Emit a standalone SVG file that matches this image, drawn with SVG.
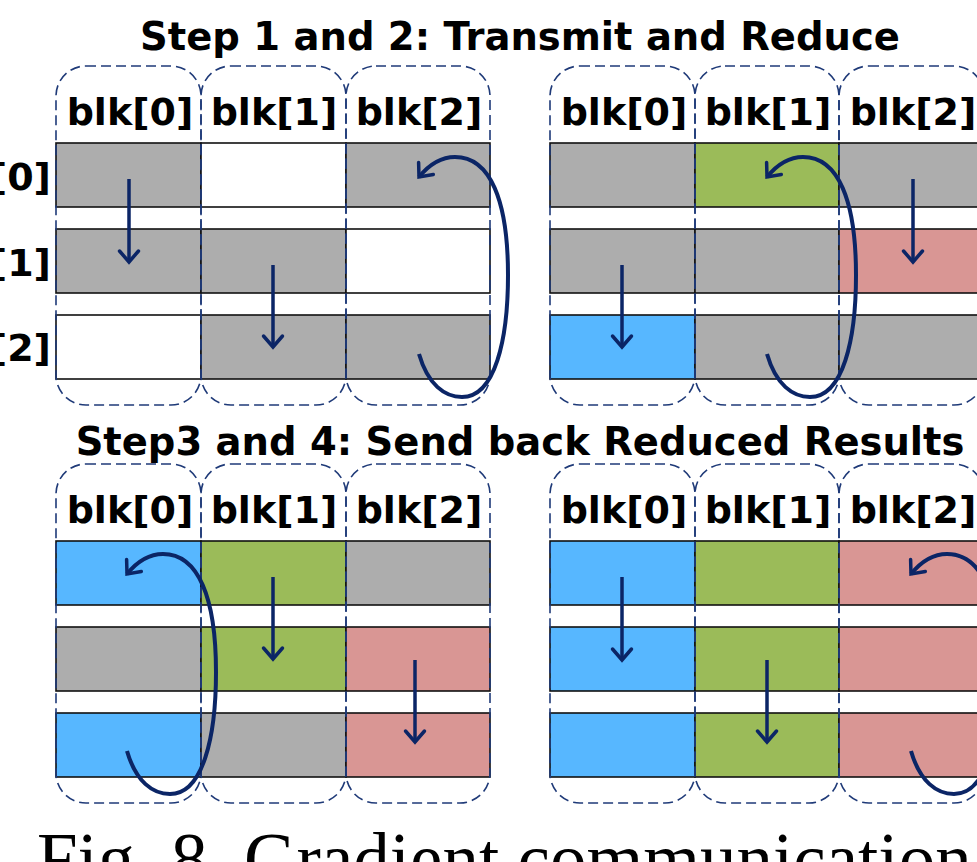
<svg xmlns="http://www.w3.org/2000/svg" width="977" height="862" viewBox="0 0 977 862">
  <style>
    .title { font-family: "DejaVu Sans", Verdana, sans-serif; font-weight: bold; font-size: 38.5px; fill: #000; text-anchor: middle; }
    .blk { font-family: "DejaVu Sans", Verdana, sans-serif; font-weight: bold; font-size: 38px; fill: #000; text-anchor: middle; }
    .row { font-family: "DejaVu Sans", Verdana, sans-serif; font-weight: bold; font-size: 38px; fill: #000; text-anchor: end; }
    .cap { font-family: "Liberation Serif", "Times New Roman", serif; font-size: 73px; fill: #000; }
    .cell { stroke: #111; stroke-width: 1.6; }
    .g { fill: #adadad; }
    .w { fill: #ffffff; }
    .gr { fill: #9bbb59; }
    .rd { fill: #d99694; }
    .bl { fill: #57b7ff; }
    .col { fill: none; stroke: #1f3a78; stroke-width: 1.6; stroke-dasharray: 10 5; }
    .arr { fill: none; stroke: #0b2566; stroke-width: 3.5; stroke-linecap: butt; marker-end: url(#ah); }
    .loop { fill: none; stroke: #0b2566; stroke-width: 4; stroke-linecap: butt; marker-end: url(#ah); }
  </style>
  <defs>
    <marker id="ah" viewBox="-15 -13 18 26" markerWidth="18" markerHeight="26" refX="0" refY="0" orient="auto" markerUnits="userSpaceOnUse">
      <path d="M-11,-9.5 L0,0 L-11,9.5" fill="none" stroke="#0b2566" stroke-width="3.5" stroke-linecap="round" stroke-linejoin="miter"/>
    </marker>
    <!-- one block column: three cells plus dashed outline; fills set per use -->
  </defs>

  <rect width="977" height="862" fill="#ffffff"/>

  <!-- headings -->
  <text class="title" x="520" y="50">Step 1 and 2: Transmit and Reduce</text>
  <text class="title" x="520" y="455">Step3 and 4: Send back Reduced Results</text>

  <!-- row labels (left edge) -->
  <g id="row-labels">
    <text class="row" x="51" y="190">[0]</text>
    <text class="row" x="51" y="276">[1]</text>
    <text class="row" x="51" y="361">[2]</text>
  </g>

  <!-- Panel A: steps 1-2, left -->
  <g id="pA">
    <g id="pA-blk0">
      <rect class="cell g" x="56" y="143" width="145" height="64"/>
      <rect class="cell g" x="56" y="229" width="145" height="64"/>
      <rect class="cell w" x="56" y="315" width="145" height="64"/>
      <text class="blk" x="130" y="125">blk[0]</text>
    </g>
    <g id="pA-blk1">
      <rect class="cell w" x="201" y="143" width="145" height="64"/>
      <rect class="cell g" x="201" y="229" width="145" height="64"/>
      <rect class="cell g" x="201" y="315" width="145" height="64"/>
      <text class="blk" x="274" y="125">blk[1]</text>
    </g>
    <g id="pA-blk2">
      <rect class="cell g" x="346" y="143" width="144" height="64"/>
      <rect class="cell w" x="346" y="229" width="144" height="64"/>
      <rect class="cell g" x="346" y="315" width="144" height="64"/>
      <text class="blk" x="419" y="125">blk[2]</text>
    </g>
    <rect class="col" x="56" y="66" width="145" height="339" rx="30"/>
    <rect class="col" x="201" y="66" width="145" height="339" rx="30"/>
    <rect class="col" x="346" y="66" width="144" height="339" rx="30"/>
  </g>

  <!-- Panel B: steps 1-2, right -->
  <g id="pB">
    <g id="pB-blk0">
      <rect class="cell g" x="550" y="143" width="145" height="64"/>
      <rect class="cell g" x="550" y="229" width="145" height="64"/>
      <rect class="cell bl" x="550" y="315" width="145" height="64"/>
      <text class="blk" x="624" y="125">blk[0]</text>
    </g>
    <g id="pB-blk1">
      <rect class="cell gr" x="695" y="143" width="144" height="64"/>
      <rect class="cell g" x="695" y="229" width="144" height="64"/>
      <rect class="cell g" x="695" y="315" width="144" height="64"/>
      <text class="blk" x="768" y="125">blk[1]</text>
    </g>
    <g id="pB-blk2">
      <rect class="cell g" x="839" y="143" width="145" height="64"/>
      <rect class="cell rd" x="839" y="229" width="145" height="64"/>
      <rect class="cell g" x="839" y="315" width="145" height="64"/>
      <text class="blk" x="913" y="125">blk[2]</text>
    </g>
    <rect class="col" x="550" y="66" width="145" height="339" rx="30"/>
    <rect class="col" x="695" y="66" width="144" height="339" rx="30"/>
    <rect class="col" x="839" y="66" width="145" height="339" rx="30"/>
  </g>

  <!-- Panel C: steps 3-4, left -->
  <g id="pC">
    <g id="pC-blk0">
      <rect class="cell bl" x="56" y="541" width="145" height="64"/>
      <rect class="cell g" x="56" y="627" width="145" height="64"/>
      <rect class="cell bl" x="56" y="713" width="145" height="64"/>
      <text class="blk" x="130" y="523">blk[0]</text>
    </g>
    <g id="pC-blk1">
      <rect class="cell gr" x="201" y="541" width="145" height="64"/>
      <rect class="cell gr" x="201" y="627" width="145" height="64"/>
      <rect class="cell g" x="201" y="713" width="145" height="64"/>
      <text class="blk" x="274" y="523">blk[1]</text>
    </g>
    <g id="pC-blk2">
      <rect class="cell g" x="346" y="541" width="144" height="64"/>
      <rect class="cell rd" x="346" y="627" width="144" height="64"/>
      <rect class="cell rd" x="346" y="713" width="144" height="64"/>
      <text class="blk" x="419" y="523">blk[2]</text>
    </g>
    <rect class="col" x="56" y="464" width="145" height="339" rx="30"/>
    <rect class="col" x="201" y="464" width="145" height="339" rx="30"/>
    <rect class="col" x="346" y="464" width="144" height="339" rx="30"/>
  </g>

  <!-- Panel D: steps 3-4, right -->
  <g id="pD">
    <g id="pD-blk0">
      <rect class="cell bl" x="550" y="541" width="145" height="64"/>
      <rect class="cell bl" x="550" y="627" width="145" height="64"/>
      <rect class="cell bl" x="550" y="713" width="145" height="64"/>
      <text class="blk" x="624" y="523">blk[0]</text>
    </g>
    <g id="pD-blk1">
      <rect class="cell gr" x="695" y="541" width="144" height="64"/>
      <rect class="cell gr" x="695" y="627" width="144" height="64"/>
      <rect class="cell gr" x="695" y="713" width="144" height="64"/>
      <text class="blk" x="768" y="523">blk[1]</text>
    </g>
    <g id="pD-blk2">
      <rect class="cell rd" x="839" y="541" width="145" height="64"/>
      <rect class="cell rd" x="839" y="627" width="145" height="64"/>
      <rect class="cell rd" x="839" y="713" width="145" height="64"/>
      <text class="blk" x="913" y="523">blk[2]</text>
    </g>
    <rect class="col" x="550" y="464" width="145" height="339" rx="30"/>
    <rect class="col" x="695" y="464" width="144" height="339" rx="30"/>
    <rect class="col" x="839" y="464" width="145" height="339" rx="30"/>
  </g>

  <!-- transfers between ranks -->
  <g id="connectors">
    <!-- panel A -->
    <path class="arr" d="M129,179 L129,262"/>
    <path class="arr" d="M273,265 L273,347"/>
    <path class="loop" d="M419,354 C428,385 445,397 462,397 C495,397 508,340 508,275 C508,200 490,157 455,157 C440,157 428,166 419,177"/>
    <!-- panel B -->
    <path class="arr" d="M622,265 L622,347"/>
    <path class="arr" d="M913,179 L913,262"/>
    <path class="loop" transform="translate(348,0)" d="M419,354 C428,385 445,397 462,397 C495,397 508,340 508,275 C508,200 490,157 455,157 C440,157 428,166 419,177"/>
    <!-- panel C -->
    <path class="arr" d="M273,577 L273,659"/>
    <path class="arr" d="M415,660 L415,742"/>
    <path class="loop" transform="translate(-292,397)" d="M419,354 C428,385 445,397 462,397 C495,397 508,340 508,275 C508,200 490,157 455,157 C440,157 428,166 419,177"/>
    <!-- panel D -->
    <path class="arr" d="M622,577 L622,660"/>
    <path class="arr" d="M767,660 L767,742"/>
    <path class="loop" transform="translate(492,397)" d="M419,354 C428,385 445,397 462,397 C495,397 508,340 508,275 C508,200 490,157 455,157 C440,157 428,166 419,177"/>
  </g>

  <!-- caption -->
  <text class="cap" x="37" y="884">Fig. 8. Gradient communication</text>
</svg>
